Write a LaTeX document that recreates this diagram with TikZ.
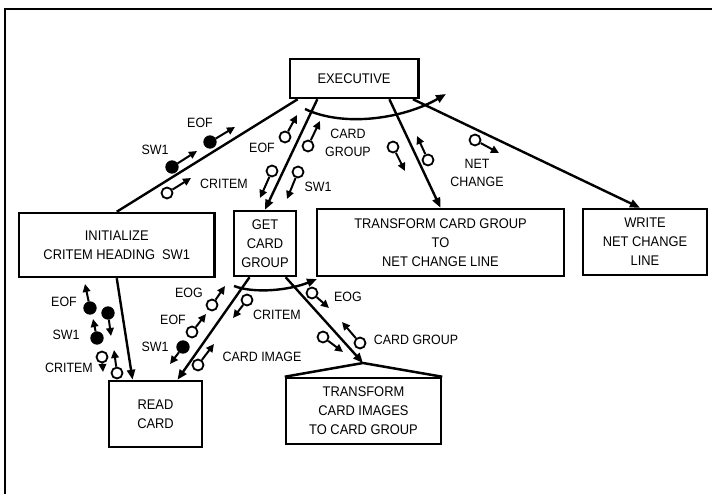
\documentclass[tikz,border=0pt]{standalone}
\usepackage{fontspec}
\setmainfont{Liberation Sans}[FakeStretch=0.92]
\usetikzlibrary{arrows.meta,calc}
% one couple: a circle and its short flow arrow
\newcommand\couple[4]{%
  \node[#1] (#2) at (#3) {};
  \coordinate (#2-tip) at (#4);
  \draw[cpa] (#2) -- (#2-tip);}
\begin{document}
\begin{tikzpicture}[x=1pt,y=-1pt,
  box/.style={draw,line width=2.5pt,align=center,inner sep=0pt,
    font=\fontsize{14}{19}\selectfont},
  lbl/.style={inner sep=0pt,align=center,font=\fontsize{13.5}{18}\selectfont},
  call/.style={line width=2.4pt,-{Triangle[length=10pt,width=8pt]}},
  plainline/.style={line width=2.4pt},
  iter/.style={line width=2.4pt,-{Triangle[length=10pt,width=8pt]}},
  datac/.style={circle,draw,line width=1.8pt,fill=white,minimum size=11pt,inner sep=0pt},
  flagc/.style={circle,draw,line width=1.8pt,fill=black,minimum size=11.5pt,inner sep=0pt},
  cpa/.style={line width=2pt,-{Triangle[length=8pt,width=7.5pt]}}]

\useasboundingbox (0,0) rectangle (712,494);

% frame
\coordinate (fbl) at (5,494);
\coordinate (ftl) at (5,9);
\coordinate (ftr) at (712,9);
\draw[line width=2pt] (fbl) -- (ftl) -- (ftr);

% modules
\node[box,minimum width=128.5pt,minimum height=39pt] (exec) at (354,78.5) {EXECUTIVE};
\node[box,minimum width=195.5pt,minimum height=64pt] (init) at (116.75,245)
  {INITIALIZE\\CRITEM HEADING\enspace SW1};
\node[box,minimum width=62pt,minimum height=65pt] (get) at (265,243.5) {GET\\CARD\\GROUP};
\node[box,minimum width=247pt,minimum height=67pt] (tcg) at (440.5,242.5)
  {TRANSFORM CARD GROUP\\TO\\NET CHANGE LINE};
\node[box,minimum width=124pt,minimum height=66pt] (write) at (645,242)
  {WRITE\\NET CHANGE\\LINE};
\node[box,minimum width=93pt,minimum height=66pt] (read) at (155.5,414) {READ\\CARD};
\node[box,minimum width=155pt,minimum height=66pt] (tci) at (363.5,411)
  {TRANSFORM\\CARD IMAGES\\TO CARD GROUP};
\coordinate (apex) at (363,363);
\draw[line width=2.5pt,line join=round] (tci.north west) -- (apex) -- (tci.north east);

% calls
\draw[plainline] ($(exec.south west)!0.07!(exec.south east)$) -- (init.north);
\draw[call] ($(exec.south west)!0.22!(exec.south east)$) -- (get.north);
\draw[call] ($(exec.south west)!0.77!(exec.south east)$) -- (tcg.north);
\draw[call] ($(exec.south west)!0.95!(exec.south east)$) -- ($(write.north west)!0.46!(write.north east)$);
\draw[call] ($(init.south west)!0.5!(init.south east)$) -- ($(read.north west)!0.26!(read.north east)$);
\draw[call] ($(get.south west)!0.26!(get.south east)$) -- ($(read.north west)!0.73!(read.north east)$);
\draw[call] ($(get.south west)!0.82!(get.south east)$) -- (apex);

% iteration arcs
\coordinate (ea) at (305,109);
\coordinate (eb) at (446,94);
\draw[iter] (ea) .. controls (345,128) and (405,118) .. (eb);
\coordinate (ga) at (234,286);
\coordinate (gb) at (317,279);
\draw[iter] (ga) .. controls (255,294) and (290,290) .. (gb);

% couples: EXECUTIVE - INITIALIZE
\couple{flagc}{sw1a}{172,167}{197,151}
\couple{flagc}{eofa}{210,142}{235,127}
\couple{datac}{crita}{167,193}{191,178}
% couples: EXECUTIVE - GET CARD GROUP
\couple{datac}{eofb}{285,137}{297,115}
\couple{datac}{cgb}{308,146}{320,121}
\couple{datac}{critb}{272,171}{260,198}
\couple{datac}{sw1b}{298,172}{287,199}
% couples: EXECUTIVE - TRANSFORM CARD GROUP
\couple{datac}{ngc}{393,147}{405,171}
\couple{datac}{ngu}{428,160}{417,136}
% couples: EXECUTIVE - WRITE
\couple{datac}{nc}{475,140}{499,153}
% couples: INITIALIZE - READ CARD
\couple{flagc}{eofc}{90,308}{85,284}
\couple{flagc}{eofd}{108,313}{111,336}
\couple{flagc}{sw1c}{97,338}{93,319}
\couple{datac}{critc}{102,357}{103,372}
\couple{datac}{critd}{117,373}{114,350}
% couples: GET CARD GROUP - READ CARD
\couple{datac}{eoge}{212,305}{225,286}
\couple{datac}{eofe}{192,332}{206,314}
\couple{flagc}{sw1e}{183,347}{170,364}
\couple{datac}{crite}{247,300}{233,318}
\couple{datac}{cie}{198,365}{214,344}
% couples: GET CARD GROUP - TRANSFORM CARD IMAGES
\couple{datac}{eogf}{312,293}{329,308}
\couple{datac}{cgf}{323,337}{343,352}
\couple{datac}{cgg}{360,343}{342,322}

% couple labels
\node[lbl] (l1) at (200,123) {EOF};
\node[lbl] (l2) at (155,150) {SW1};
\node[lbl] (l3) at (224,184) {CRITEM};
\node[lbl] (l4) at (262,148) {EOF};
\node[lbl] (l5) at (348,142.5) {CARD\\GROUP};
\node[lbl] (l6) at (318,187) {SW1};
\node[lbl] (l7) at (477,173) {NET\\CHANGE};
\node[lbl] (l8) at (64,302) {EOF};
\node[lbl] (l9) at (66,335) {SW1};
\node[lbl] (l10) at (69,368) {CRITEM};
\node[lbl] (l11) at (189,293) {EOG};
\node[lbl] (l12) at (173,320) {EOF};
\node[lbl] (l13) at (155,347) {SW1};
\node[lbl] (l14) at (277,315) {CRITEM};
\node[lbl] (l15) at (262,357) {CARD IMAGE};
\node[lbl] (l16) at (348,297) {EOG};
\node[lbl] (l17) at (416,340) {CARD GROUP};
\end{tikzpicture}
\end{document}
